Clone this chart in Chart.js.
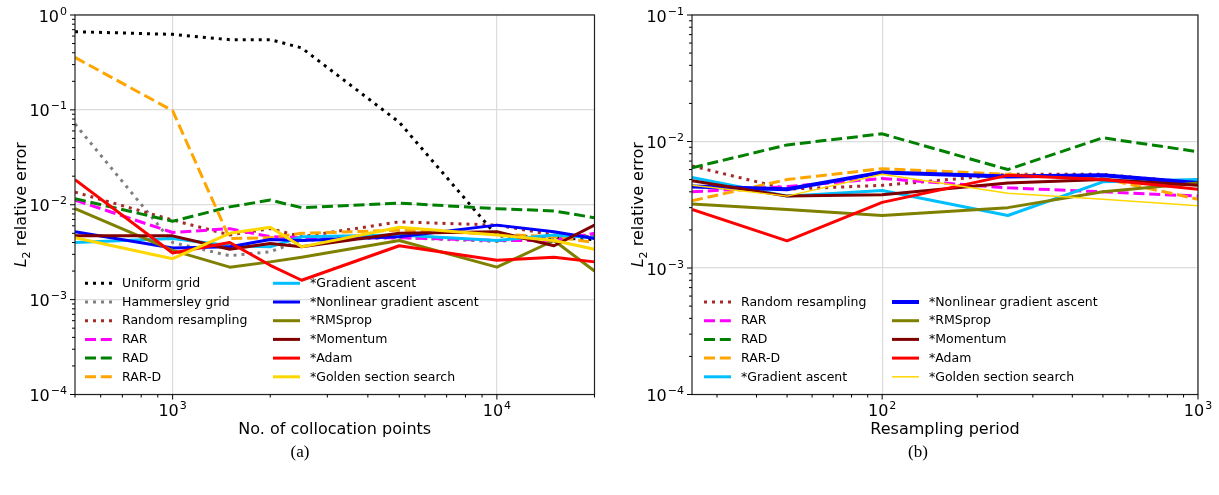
<!DOCTYPE html>
<html>
<head>
<meta charset="utf-8">
<script src="https://cdn.jsdelivr.net/npm/chart.js@4.4.1/dist/chart.umd.min.js"></script>
<style>
  body { margin: 0; background: #fff; width: 1219px; height: 495px; overflow: hidden; position: relative; }
  canvas { position: absolute; top: 0; }
  #chartA { left: 0; }
  #chartB { left: 610px; }
  .cap { position: absolute; top: 442px; line-height: 20px; font-family: "Liberation Serif", "DejaVu Serif", serif; font-size: 17px; transform: translateX(-50%); }
</style>
</head>
<body>
<canvas id="chartA" width="610" height="445"></canvas>
<canvas id="chartB" width="609" height="445"></canvas>
<div class="cap" style="left:300px">(a)</div>
<div class="cap" style="left:918px">(b)</div>
<script>
// (a) error vs number of collocation points
const pointsA = [500, 1000, 1500, 2000, 2500, 5000, 10000, 15000, 20000];
const uniformA   = [0.667, 0.625, 0.55, 0.55, 0.45, 0.074, 0.0047, 0.0045, 0.0043];
const hammersA   = [0.071, 0.0040, 0.0029, 0.0032, 0.0042, 0.0045, 0.0041, 0.0045, 0.0048];
const randomA    = [0.0136, 0.0069, 0.0048, 0.0056, 0.0046, 0.0066, 0.0061, 0.0048, 0.0046];
const rarA       = [0.0112, 0.0051, 0.0056, 0.0046, 0.0045, 0.0045, 0.0042, 0.0042, 0.0050];
const radA       = [0.0116, 0.0067, 0.0095, 0.0112, 0.0093, 0.0104, 0.0091, 0.0086, 0.0073];
const rardA      = [0.357, 0.098, 0.0044, 0.0045, 0.0050, 0.0054, 0.0049, 0.0046, 0.0040];
const gradA      = [0.0040, 0.0044, 0.0037, 0.0036, 0.0046, 0.0048, 0.0042, 0.0048, 0.0045];
const nonlinA    = [0.0052, 0.0035, 0.0036, 0.0043, 0.0042, 0.0046, 0.0061, 0.0052, 0.0044];
const rmspropA   = [0.0091, 0.0033, 0.0022, 0.0025, 0.0028, 0.0042, 0.0022, 0.0042, 0.0020];
const momentumA  = [0.0047, 0.0047, 0.0034, 0.0039, 0.0036, 0.0050, 0.0052, 0.0037, 0.0061];
const adamA      = [0.0184, 0.0031, 0.0040, 0.0023, 0.0016, 0.0037, 0.0026, 0.0028, 0.0025];
const goldenA    = [0.0045, 0.0027, 0.0050, 0.0058, 0.0036, 0.0058, 0.0048, 0.0042, 0.0034];

// (b) error vs resampling period
const periodsB = [25, 50, 100, 250, 500, 1000];
const randomB    = [0.0064, 0.0042, 0.0045, 0.0055, 0.0055, 0.0047];
const rarB       = [0.0040, 0.0044, 0.0051, 0.0043, 0.0040, 0.0037];
const radB       = [0.0062, 0.0094, 0.0115, 0.0060, 0.0107, 0.0083];
const rardB      = [0.0034, 0.0050, 0.0061, 0.0055, 0.0051, 0.0035];
const gradB      = [0.0052, 0.0037, 0.0041, 0.0026, 0.0048, 0.0050];
const nonlinB    = [0.0044, 0.0042, 0.0057, 0.0053, 0.0054, 0.0047];
const rmspropB   = [0.0032, 0.0029, 0.0026, 0.0030, 0.0040, 0.0047];
const momentumB  = [0.0049, 0.0037, 0.0038, 0.0047, 0.0050, 0.0045];
const adamB      = [0.0029, 0.00164, 0.0033, 0.0054, 0.0050, 0.0042];
const goldenB    = [0.0045, 0.0037, 0.0055, 0.0039, 0.0035, 0.0031];

// axis limits
const xRangeA = [500, 20000], yRangeA = [1e-4, 1];
const xRangeB = [25, 1000],  yRangeB = [1e-4, 1e-1];

const FONT = '"DejaVu Sans", "Liberation Sans", sans-serif';
const DOT = [3, 5], DASH = [11, 4.8];

const isPow10 = v => Math.abs(Math.log10(v) - Math.round(Math.log10(v))) < 1e-6;

function logTicks(min, max) {
  const out = [];
  for (let e = Math.floor(Math.log10(min)); e <= Math.ceil(Math.log10(max)); e++) {
    for (let m = 1; m < 10; m++) {
      const v = m * Math.pow(10, e);
      if (v >= min * 0.9999 && v <= max * 1.0001) out.push(v);
    }
  }
  return out;
}

function series(name, xs, ys, color, dash, width) {
  return {
    label: name,
    data: xs.map((x, i) => ({ x: x, y: ys[i] })),
    borderColor: color,
    borderWidth: width || 3,
    borderDash: dash || [],
    borderJoinStyle: 'round',
    pointRadius: 0,
    tension: 0,
    fill: false
  };
}

function drawPow(ctx, v, x, y, align) {
  const e = Math.round(Math.log10(v));
  const ex = e < 0 ? '\u2212' + (-e) : String(e);
  ctx.font = '16px ' + FONT;
  const wb = ctx.measureText('10').width;
  ctx.font = '11px ' + FONT;
  const we = ctx.measureText(ex).width;
  const x0 = align === 'right' ? x - wb - we - 1 : x - (wb + we + 1) / 2;
  ctx.textAlign = 'left';
  ctx.textBaseline = 'alphabetic';
  ctx.font = '16px ' + FONT;
  ctx.fillText('10', x0, y);
  ctx.font = '11px ' + FONT;
  ctx.fillText(ex, x0 + wb + 1, y - 7);
}

const decor = {
  id: 'decor',
  afterDraw(chart, args, opts) {
    const ctx = chart.ctx, ca = chart.chartArea;
    const xs = chart.scales.x, ys = chart.scales.y;
    ctx.save();
    ctx.fillStyle = '#000';

    // frame
    ctx.strokeStyle = '#222';
    ctx.lineWidth = 1.2;
    ctx.strokeRect(ca.left, ca.top, ca.right - ca.left, ca.bottom - ca.top);

    // tick marks
    ctx.beginPath();
    ctx.lineWidth = 1;
    ctx.strokeStyle = '#000';
    xs.ticks.forEach(t => {
      const p = xs.getPixelForValue(t.value);
      ctx.moveTo(p, ca.bottom);
      ctx.lineTo(p, ca.bottom + (isPow10(t.value) ? 5 : 3));
    });
    ys.ticks.forEach(t => {
      const p = ys.getPixelForValue(t.value);
      ctx.moveTo(ca.left, p);
      ctx.lineTo(ca.left - (isPow10(t.value) ? 5 : 3), p);
    });
    ctx.stroke();

    // tick labels
    xs.ticks.filter(t => isPow10(t.value)).forEach(t => {
      drawPow(ctx, t.value, xs.getPixelForValue(t.value), ca.bottom + 21, 'center');
    });
    ys.ticks.filter(t => isPow10(t.value)).forEach(t => {
      drawPow(ctx, t.value, ca.left - 8, ys.getPixelForValue(t.value) + 6.5, 'right');
    });

    // x title
    ctx.font = '16px ' + FONT;
    ctx.textAlign = 'center';
    ctx.textBaseline = 'middle';
    ctx.fillText(opts.xTitle, (ca.left + ca.right) / 2, 430);

    // y title: italic L with subscript 2
    ctx.save();
    ctx.translate(ca.left - 55, (ca.top + ca.bottom) / 2);
    ctx.rotate(-Math.PI / 2);
    ctx.textAlign = 'left';
    ctx.textBaseline = 'alphabetic';
    const fi = 'italic 16px ' + FONT, fs = '11px ' + FONT, fn = '16px ' + FONT;
    ctx.font = fi; const wL = ctx.measureText('L').width;
    ctx.font = fs; const w2 = ctx.measureText('2').width;
    ctx.font = fn; const wr = ctx.measureText(' relative error').width;
    let x0 = -(wL + w2 + wr) / 2;
    ctx.font = fi; ctx.fillText('L', x0, 6);
    ctx.font = fs; ctx.fillText('2', x0 + wL, 9.5);
    ctx.font = fn; ctx.fillText(' relative error', x0 + wL + w2, 6);
    ctx.restore();

    // legend, two columns in the lower left
    const sets = chart.data.datasets;
    const rows = Math.ceil(sets.length / 2);
    ctx.font = '12.5px ' + FONT;
    ctx.textAlign = 'left';
    ctx.textBaseline = 'middle';
    sets.forEach((d, i) => {
      const col = i < rows ? 0 : 1;
      const r = i % rows;
      const y = ca.bottom - 17.7 - (rows - 1 - r) * 18.7;
      const lx = ca.left + opts.legendX[col];
      ctx.beginPath();
      ctx.setLineDash(d.borderDash);
      ctx.lineWidth = d.borderWidth;
      ctx.strokeStyle = d.borderColor;
      ctx.moveTo(lx, y);
      ctx.lineTo(lx + 27, y);
      ctx.stroke();
      ctx.setLineDash([]);
      ctx.fillStyle = '#000';
      ctx.fillText(d.label, lx + 37, y + 0.5);
    });
    ctx.restore();
  }
};

function makeChart(id, datasets, xr, yr, yWidth, padRight, xTitle, legendX) {
  const gridColor = c => (c.tick && isPow10(c.tick.value)) ? '#dcdcdc' : 'rgba(0,0,0,0)';
  datasets.forEach((d, i) => { d.order = -i; });
  return new Chart(document.getElementById(id), {
    type: 'line',
    data: { datasets: datasets },
    options: {
      responsive: false,
      animation: false,
      layout: { padding: { left: 0, top: 15, right: padRight, bottom: 0 } },
      plugins: {
        legend: { display: false },
        tooltip: { enabled: false },
        decor: { xTitle: xTitle, legendX: legendX }
      },
      scales: {
        x: {
          type: 'logarithmic', min: xr[0], max: xr[1],
          afterBuildTicks: s => { s.ticks = logTicks(xr[0], xr[1]).map(v => ({ value: v })); },
          afterFit: s => { s.height = 50.5; },
          ticks: { display: false },
          grid: { color: gridColor, lineWidth: 1.2, drawTicks: false },
          border: { display: false }
        },
        y: {
          type: 'logarithmic', min: yr[0], max: yr[1],
          afterBuildTicks: s => { s.ticks = logTicks(yr[0], yr[1]).map(v => ({ value: v })); },
          afterFit: s => { s.width = yWidth; },
          ticks: { display: false },
          grid: { color: gridColor, lineWidth: 1.2, drawTicks: false },
          border: { display: false }
        }
      }
    },
    plugins: [decor]
  });
}

makeChart('chartA', [
  series('Uniform grid', pointsA, uniformA, '#000000', DOT),
  series('Hammersley grid', pointsA, hammersA, '#808080', DOT),
  series('Random resampling', pointsA, randomA, '#a52a2a', DOT),
  series('RAR', pointsA, rarA, '#ff00ff', DASH),
  series('RAD', pointsA, radA, '#008000', DASH),
  series('RAR-D', pointsA, rardA, '#ffa500', DASH),
  series('*Gradient ascent', pointsA, gradA, '#00bfff'),
  series('*Nonlinear gradient ascent', pointsA, nonlinA, '#0000ff'),
  series('*RMSprop', pointsA, rmspropA, '#808000'),
  series('*Momentum', pointsA, momentumA, '#800000'),
  series('*Adam', pointsA, adamA, '#ff0000'),
  series('*Golden section search', pointsA, goldenA, '#ffd700')
], xRangeA, yRangeA, 75, 15.5, 'No. of collocation points', [10, 198]);

makeChart('chartB', [
  series('Random resampling', periodsB, randomB, '#a52a2a', DOT),
  series('RAR', periodsB, rarB, '#ff00ff', DASH),
  series('RAD', periodsB, radB, '#008000', DASH),
  series('RAR-D', periodsB, rardB, '#ffa500', DASH),
  series('*Gradient ascent', periodsB, gradB, '#00bfff'),
  series('*Nonlinear gradient ascent', periodsB, nonlinB, '#0000ff', null, 4),
  series('*RMSprop', periodsB, rmspropB, '#808000'),
  series('*Momentum', periodsB, momentumB, '#800000'),
  series('*Adam', periodsB, adamB, '#ff0000'),
  series('*Golden section search', periodsB, goldenB, '#ffd700', null, 1.5)
], xRangeB, yRangeB, 82, 21, 'Resampling period', [12, 200]);
</script>
</body>
</html>
